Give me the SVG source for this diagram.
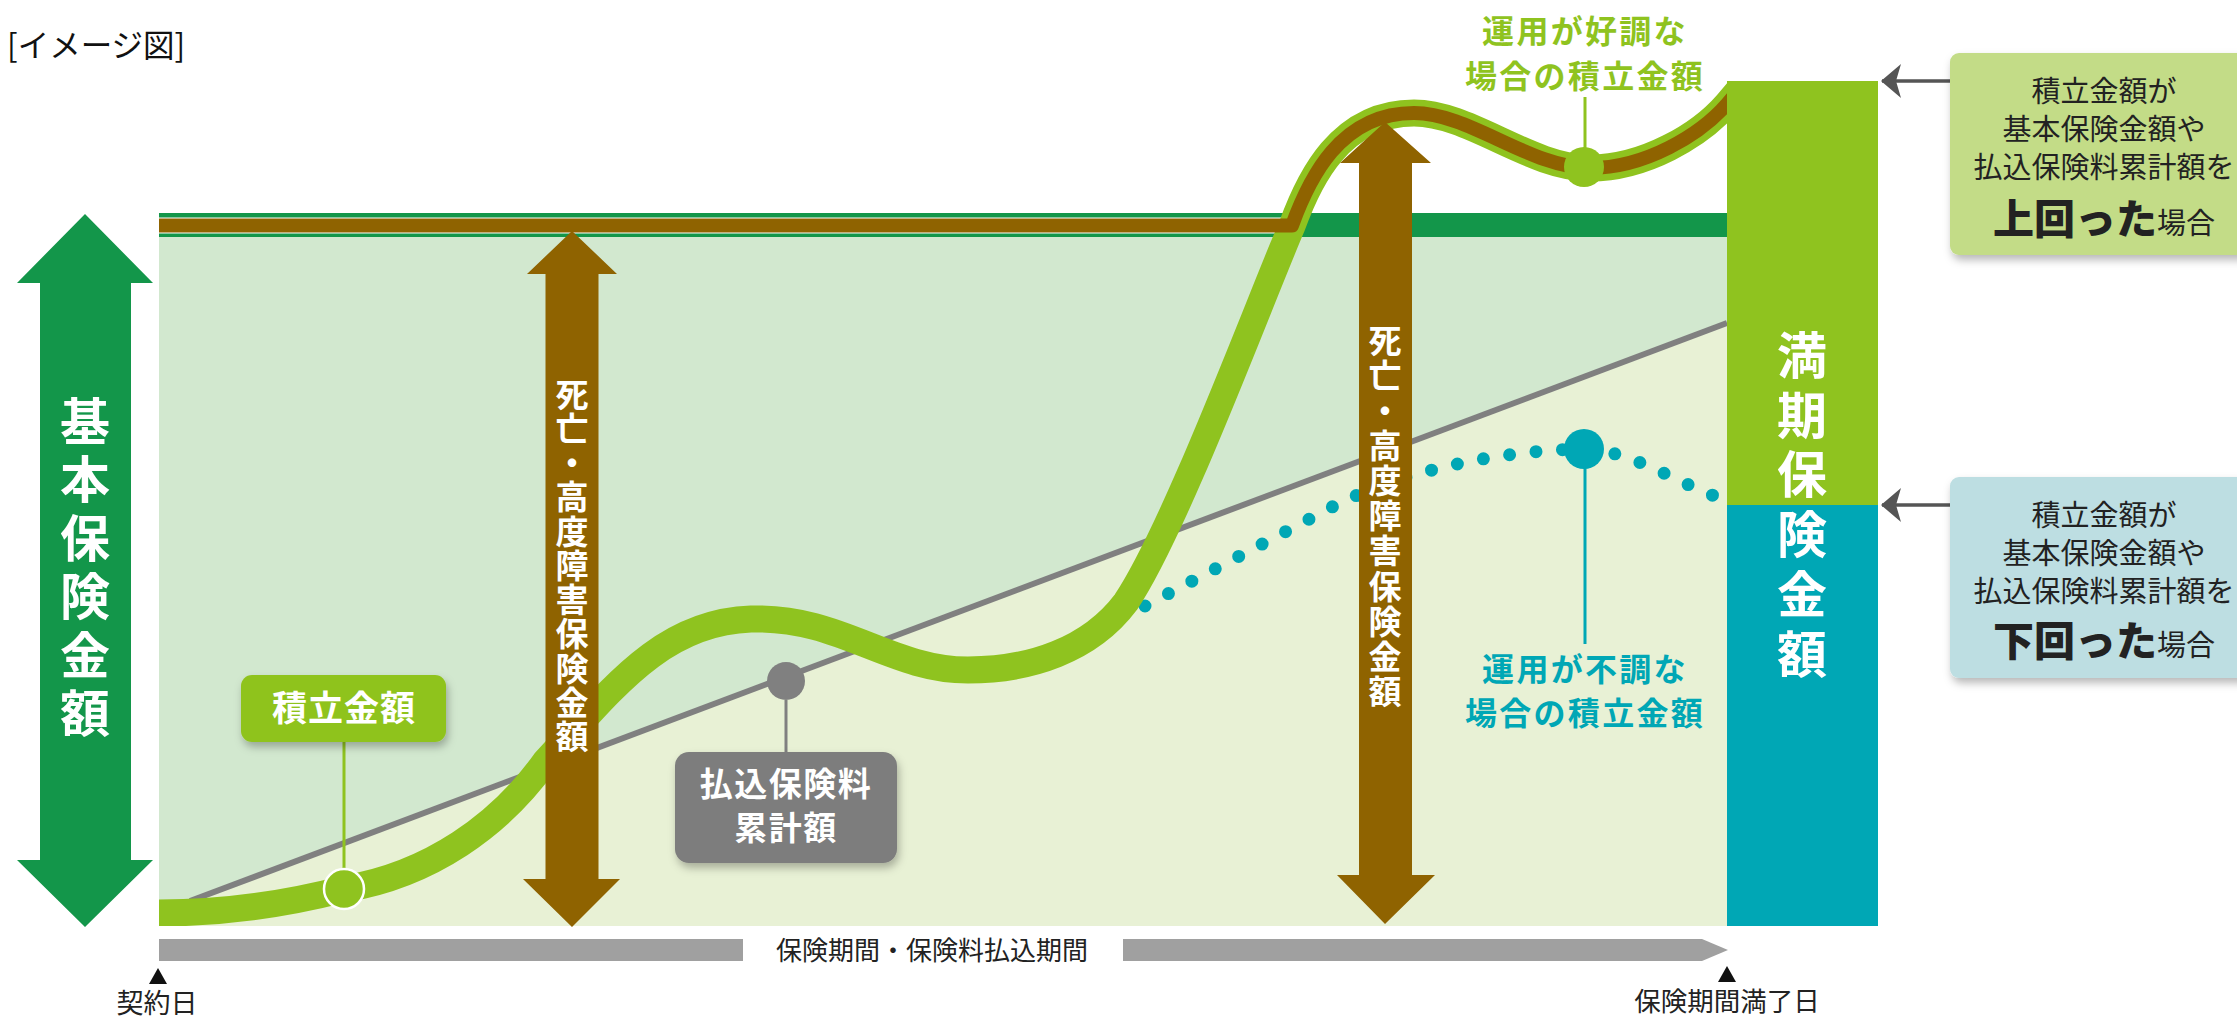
<svg xmlns="http://www.w3.org/2000/svg" width="2237" height="1018" viewBox="0 0 2237 1018">
<style>
text{font-family:'Noto Sans CJK JP','Noto Sans',sans-serif;}
.w{fill:#fff;font-weight:700;text-anchor:middle;}
.vt{fill:#fff;font-weight:700;writing-mode:vertical-rl;text-orientation:upright;text-anchor:start;}
.blk{fill:#222;text-anchor:middle;}
.cl{font-size:29px;}
.big{font-size:41px;font-weight:900;}
.gt{fill:#8fc31f;font-weight:700;font-size:32px;text-anchor:middle;letter-spacing:2.3px;}
.tt{fill:#00a7b5;font-weight:700;font-size:32px;text-anchor:middle;letter-spacing:2.3px;}
.brown{fill:#8f6300;}
</style>
<defs>
<filter id="sh" x="-10%" y="-10%" width="130%" height="140%">
<feDropShadow dx="2" dy="5" stdDeviation="4" flood-color="#000" flood-opacity="0.28"/>
</filter>
<clipPath id="chart"><rect x="159" y="0" width="1568" height="926"/></clipPath>
<marker id="ah" viewBox="0 0 20 34" refX="19" refY="17" markerWidth="20" markerHeight="34" markerUnits="userSpaceOnUse" orient="auto">
<path d="M20,17 L0,0 L5,17 L0,34 Z" fill="#555"/>
</marker>
</defs>
<rect width="2237" height="1018" fill="#fff"/>
<text x="7" y="57" font-size="31.5" fill="#111">[イメージ図]</text>

<g id="chart-area">
<rect x="159" y="237" width="1568" height="689" fill="#d2e8cf"/>
<polygon points="159,913 190,901 1727,323 1727,926 159,926" fill="#e8f1d5"/>
<line x1="190" y1="901" x2="1727" y2="323" stroke="#808080" stroke-width="6"/>
<rect x="159" y="213" width="1568" height="24" fill="#13964a"/>
<line x1="159" y1="225.5" x2="1284" y2="225.5" stroke="#fff" stroke-width="16"/>
</g>

<g id="curves" clip-path="url(#chart)">
<path id="bad-dots" d="M1145,606 L1334,506 C1400,472 1500,450 1584,449 C1630,450 1675,482 1720,498" fill="none" stroke="#00a7b5" stroke-width="13" stroke-linecap="round" stroke-dasharray="0 26.5"/>
<path id="green-curve" d="M159,913 C230,913 290,903 344,889 C430,875 500,825 545,762 C610,692 660,622 751,619 C840,616 890,670 968,670 C1030,670 1090,650 1126,602 C1176,527 1260,300 1292,226 C1309,179 1340,113 1414,113 C1470,113 1530,168 1590,168 C1645,168 1700,135 1727,104 L1745,83" fill="none" stroke="#8fc31f" stroke-width="27"/>
<path id="brown-curve" d="M159,225.5 H1292 C1309,179 1340,113 1414,113 C1470,113 1530,168 1590,168 C1645,168 1700,135 1727,104 L1745,83" fill="none" stroke="#8f6300" stroke-width="14" stroke-linejoin="round"/>
</g>

<g id="connectors">
<line x1="344" y1="742" x2="344" y2="872" stroke="#8fc31f" stroke-width="3"/>
<line x1="786" y1="700" x2="786" y2="752" stroke="#808080" stroke-width="3"/>
<line x1="1585" y1="97" x2="1585" y2="150" stroke="#8fc31f" stroke-width="3"/>
<line x1="1585" y1="465" x2="1585" y2="644" stroke="#00a7b5" stroke-width="3"/>
<line x1="1950" y1="81" x2="1882" y2="81" stroke="#555" stroke-width="3.5" marker-end="url(#ah)"/>
<line x1="1950" y1="505" x2="1882" y2="505" stroke="#555" stroke-width="3.5" marker-end="url(#ah)"/>
</g>

<g id="node-basic-arrow">
<polygon points="85,214 153,283 131,283 131,860 153,860 85,927 17,860 40,860 40,283 17,283" fill="#13964a"/>
<text class="vt" x="85" y="396" font-size="50" letter-spacing="8.4">基本保険金額</text>
</g>

<g id="node-death-arrow-1">
<polygon class="brown" points="572,231 617,274 598.5,274 598.5,879 620,879 572,927 523,879 545.5,879 545.5,274 527,274"/>
<text class="vt" x="572" y="377.5" font-size="33" letter-spacing="1.25">死亡・高度障害保険金額</text>
</g>

<g id="node-death-arrow-2">
<polygon class="brown" points="1385,122 1431,163 1412,163 1412,875 1435,875 1385,924 1337,875 1359,875 1359,163 1340,163"/>
<text class="vt" x="1385" y="323.5" font-size="33" letter-spacing="2.15">死亡・高度障害保険金額</text>
</g>

<g id="node-maturity">
<rect x="1727" y="81" width="151" height="424" fill="#8fc31f"/>
<rect x="1727" y="505" width="151" height="421" fill="#00a7b5"/>
<text class="vt" x="1802" y="330" font-size="50" letter-spacing="9.7">満期保険金額</text>
</g>

<g id="node-accum-label">
<rect x="241" y="675" width="205" height="67" rx="11" fill="#8fc31f" filter="url(#sh)"/>
<text class="w" x="344" y="721" font-size="35" letter-spacing="1">積立金額</text>
<circle cx="344" cy="889" r="20" fill="#8fc31f" stroke="#fff" stroke-width="2.5"/>
</g>

<g id="node-premium-label">
<circle cx="786" cy="681" r="19" fill="#808080"/>
<rect x="675" y="752" width="222" height="111" rx="14" fill="#7d7d7d" filter="url(#sh)"/>
<text class="w" font-size="33" letter-spacing="1.5"><tspan x="786" y="796">払込保険料</tspan><tspan x="786" y="839.5">累計額</tspan></text>
</g>

<g id="node-good">
<text class="gt"><tspan x="1585" y="43">運用が好調な</tspan><tspan x="1585" y="88">場合の積立金額</tspan></text>
<circle cx="1584" cy="167" r="20" fill="#8fc31f"/>
</g>

<g id="node-bad">
<circle cx="1584" cy="449" r="20" fill="#00a7b5"/>
<text class="tt"><tspan x="1585" y="681">運用が不調な</tspan><tspan x="1585" y="725">場合の積立金額</tspan></text>
</g>

<g id="node-callout-up">
<rect x="1950" y="53" width="300" height="202" rx="9" fill="#c3dc87" filter="url(#sh)"/>
<text class="blk cl"><tspan x="2104" y="102">積立金額が</tspan><tspan x="2104" y="140">基本保険金額や</tspan><tspan x="2104" y="178">払込保険料累計額を</tspan></text>
<text class="blk" y="234" x="2104"><tspan class="big">上回った</tspan><tspan font-size="29">場合</tspan></text>
</g>

<g id="node-callout-down">
<rect x="1950" y="477" width="300" height="201" rx="9" fill="#bddee2" filter="url(#sh)"/>
<text class="blk cl"><tspan x="2104" y="526">積立金額が</tspan><tspan x="2104" y="564">基本保険金額や</tspan><tspan x="2104" y="602">払込保険料累計額を</tspan></text>
<text class="blk" y="656" x="2104"><tspan class="big">下回った</tspan><tspan font-size="29">場合</tspan></text>
</g>

<g id="node-timeline">
<rect x="159" y="939" width="584" height="22" fill="#a0a0a0"/>
<polygon points="1123,939 1702,939 1728,950 1702,961 1123,961" fill="#a0a0a0"/>
<text class="blk" x="932" y="960" font-size="26">保険期間・保険料払込期間</text>
<polygon points="158,968 167,984 149,984" fill="#111"/>
<text class="blk" x="157" y="1013" font-size="27">契約日</text>
<polygon points="1727,966 1736,982 1718,982" fill="#111"/>
<text class="blk" x="1727" y="1011" font-size="26.5">保険期間満了日</text>
</g>
</svg>
